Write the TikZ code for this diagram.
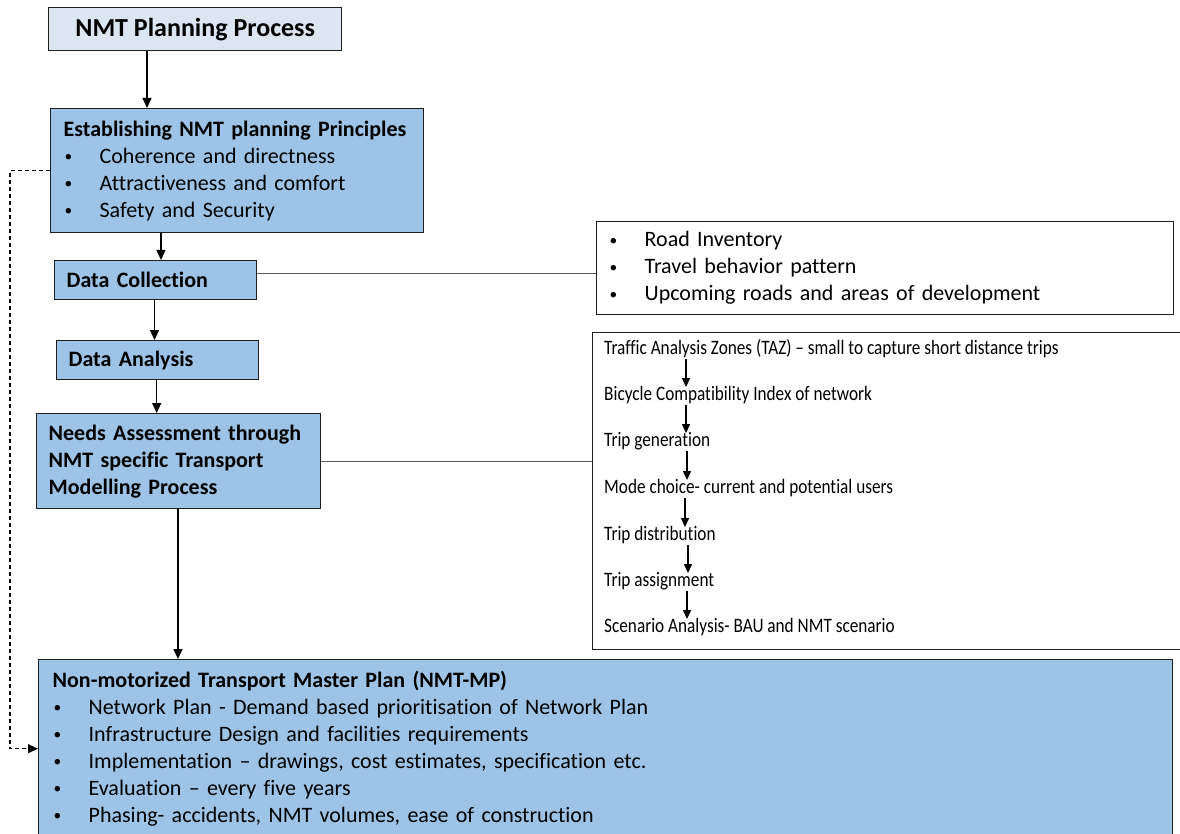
\documentclass[tikz,border=0pt]{standalone}
\usepackage{fontspec}
\setmainfont[Ligatures=NoCommon]{Carlito}
\newfontfamily\narrowfont[FakeStretch=0.84,Ligatures=NoCommon]{Carlito}
\usetikzlibrary{arrows.meta,calc}
\definecolor{boxblue}{RGB}{157,195,230}
\definecolor{titleblue}{RGB}{220,230,242}
\definecolor{edge}{RGB}{30,30,30}
\definecolor{linkgray}{RGB}{90,90,90}
\newcommand\bul[1]{\makebox[36pt][l]{\hspace{1pt}\raisebox{1.5pt}{\scalebox{0.7}{\textbullet}}}#1}
\begin{document}
\begin{tikzpicture}[x=1pt,y=-1pt,
  box/.style={draw=edge, line width=1.3pt, anchor=north west, inner ysep=0pt, align=left,
              font=\fontsize{22}{27}\selectfont},
  bluebox/.style={box, fill=boxblue},
  arr/.style={line width=1.3pt, -{Triangle[length=10pt,width=9pt]}},
  smallarr/.style={line width=1.3pt, -{Triangle[length=9pt,width=8pt]}},
  link/.style={draw=linkgray, line width=1.1pt},
  dasharr/.style={line width=1.1pt, dash pattern=on 4pt off 3pt, -{Triangle[length=10pt,width=9pt]}},
  step line/.style={anchor=west, inner sep=0pt, text height=13.5pt, text depth=4pt,
              font=\narrowfont\fontsize{20.5}{24}\selectfont}]
\useasboundingbox (0,0) rectangle (1180,834);

% main chain
\node[box, fill=titleblue, minimum width=293pt, minimum height=43pt, align=center,
      font=\fontsize{26}{30}\selectfont\bfseries] (title) at (48,7) {NMT Planning Process};

\node[bluebox, inner xsep=13pt, text width=347pt, minimum height=124pt] (prin) at (50,108)
  {\textbf{Establishing NMT planning Principles}\\
   \bul{Coherence and directness}\\
   \bul{Attractiveness and comfort}\\
   \bul{Safety and Security}};

\node[bluebox, inner xsep=12pt, text width=178pt, minimum height=39pt] (dc) at (54,260)
  {\textbf{Data Collection}};

\node[bluebox, inner xsep=12pt, text width=178pt, minimum height=39pt] (da) at (56,340)
  {\textbf{Data Analysis}};

\node[bluebox, inner xsep=12pt, text width=260pt, minimum height=95pt] (needs) at (36,413)
  {\textbf{Needs Assessment through}\\
   \textbf{NMT specific Transport}\\
   \textbf{Modelling Process}};

\node[bluebox, inner xsep=14pt, text width=1106pt, minimum height=178pt] (plan) at (38,659)
  {\textbf{Non-motorized Transport Master Plan (NMT-MP)}\\
   \bul{Network Plan - Demand based prioritisation of Network Plan}\\
   \bul{Infrastructure Design and facilities requirements}\\
   \bul{Implementation – drawings, cost estimates, specification etc.}\\
   \bul{Evaluation – every five years}\\
   \bul{Phasing- accidents, NMT volumes, ease of construction}};

% side boxes
\node[box, fill=white, inner xsep=12pt, text width=553pt, minimum height=93pt] (inv) at (596,221)
  {\bul{Road Inventory}\\
   \bul{Travel behavior pattern}\\
   \bul{Upcoming roads and areas of development}};

\node[box, fill=white, minimum width=600pt, minimum height=317pt] (model) at (592,332) {};

\node[step line] (r1) at (604,350) {Traffic Analysis Zones (TAZ) – small to capture short distance trips};
\node[step line] (r2) at (604,396) {Bicycle Compatibility Index of network};
\node[step line] (r3) at (604,442) {Trip generation};
\node[step line] (r4) at (604,489) {Mode choice- current and potential users};
\node[step line] (r5) at (604,536) {Trip distribution};
\node[step line] (r6) at (604,582) {Trip assignment};
\node[step line] (r7) at (604,628) {Scenario Analysis- BAU and NMT scenario};

% connectors
\draw[arr] ([xshift=99pt]title.south west) -- ([xshift=99pt]title.south west |- prin.north);
\draw[arr] ([xshift=111pt]prin.south west) -- ([xshift=111pt]prin.south west |- dc.north);
\draw[arr] ([xshift=100.5pt]dc.south west) -- ([xshift=100.5pt]dc.south west |- da.north);
\draw[arr] ([xshift=100.7pt]da.south west) -- ([xshift=100.7pt]da.south west |- needs.north);
\draw[arr] ([xshift=142pt]needs.south west) -- ([xshift=142pt]needs.south west |- plan.north);

\draw[link] ([yshift=6.5pt]dc.east) -- ([yshift=6.5pt]dc.east -| inv.west);
\draw[link] (needs.east) -- (needs.east -| model.west);

\draw[dasharr] (prin.west) -- ++(-40,0) |- (plan.west);

\draw[smallarr] ([xshift=82pt]r1.south west) -- ([xshift=82pt]r2.north west);
\draw[smallarr] ([xshift=82pt]r2.south west) -- ([xshift=82pt]r3.north west);
\draw[smallarr] ([xshift=83pt]r3.south west) -- ([xshift=83pt]r4.north west);
\draw[smallarr] ([xshift=81pt]r4.south west) -- ([xshift=81pt]r5.north west);
\draw[smallarr] ([xshift=84pt]r5.south west) -- ([xshift=84pt]r6.north west);
\draw[smallarr] ([xshift=83pt]r6.south west) -- ([xshift=83pt]r7.north west);
\end{tikzpicture}
\end{document}
